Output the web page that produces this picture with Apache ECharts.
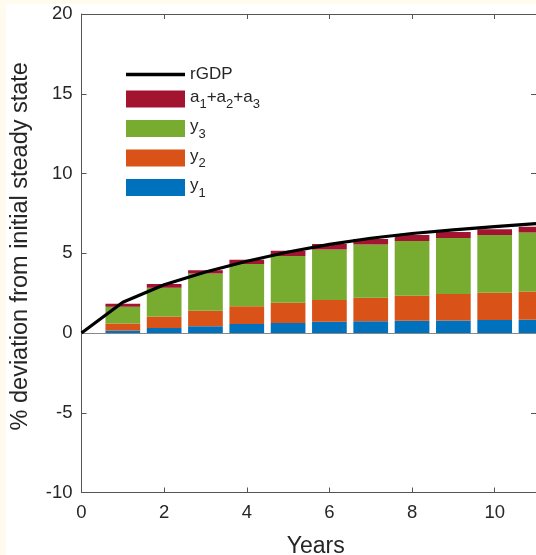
<!DOCTYPE html>
<html>
<head>
<meta charset="utf-8">
<script src="https://cdn.jsdelivr.net/npm/echarts@6/dist/echarts.min.js"></script>
<style>
  html, body { margin: 0; padding: 0; background: #FFFCEF; width: 536px; height: 555px; overflow: hidden; }
  #chart { position: absolute; left: 6px; top: 4px; width: 530px; height: 551px; background: #ffffff; }
</style>
</head>
<body>
<div id="chart"></div>
<script>
// ---- data ----
const years = [1, 2, 3, 4, 5, 6, 7, 8, 9, 10, 11];
const y1 = [0.16, 0.31, 0.43, 0.56, 0.62, 0.70, 0.74, 0.77, 0.79, 0.82, 0.83];
const y2 = [0.44, 0.73, 0.97, 1.11, 1.28, 1.37, 1.47, 1.56, 1.65, 1.71, 1.77];
const y3 = [1.04, 1.80, 2.33, 2.66, 2.92, 3.17, 3.34, 3.44, 3.52, 3.61, 3.70];
const aSum = [0.20, 0.23, 0.20, 0.27, 0.33, 0.34, 0.34, 0.38, 0.37, 0.37, 0.36];
const gdpYears = [0, 1, 2, 3, 4, 5, 6, 7, 8, 9, 10, 11];
const rGDP = [0, 1.93, 3.02, 3.82, 4.50, 5.08, 5.56, 5.94, 6.24, 6.47, 6.67, 6.86];
const xTicks = [0, 2, 4, 6, 8, 10];
const yTicks = [-10, -5, 0, 5, 10, 15, 20];

const names = { rgdp: 'rGDP', a: 'a1+a2+a3', y3: 'y3', y2: 'y2', y1: 'y1' };
const colors = { y1: '#0072BD', y2: '#D95319', y3: '#77AC30', a: '#A2142F' };

const cats = gdpYears.map(String);
const pairs = (xs, vs) => xs.map((x, i) => [String(x), vs[i]]);
const FONT = 'Liberation Sans, Arial, Helvetica, sans-serif';
const TXT = '#262626';
const AX = '#555555';

const chart = echarts.init(document.getElementById('chart'), null, { renderer: 'canvas' });

function barSeries(key, vals) {
  return {
    name: names[key], type: 'bar', stack: 'total', barWidth: '84%',
    itemStyle: { color: colors[key] },
    data: pairs(years, vals), z: 2
  };
}

const legendRich = {
  n: { fontSize: 17, lineHeight: 17, verticalAlign: 'top', color: TXT, fontFamily: FONT },
  s: { fontSize: 13, lineHeight: 21, verticalAlign: 'top', padding: [9.5, 0, 0, 0], color: TXT, fontFamily: FONT }
};
function legendFmt(name) {
  if (name === 'a1+a2+a3') return '{n|a}{s|1}{n|+a}{s|2}{n|+a}{s|3}';
  if (name[0] === 'y') return '{n|y}{s|' + name.slice(1) + '}';
  return name;
}

const tickShown = (i) => xTicks.includes(gdpYears[i]);

const option = {
  animation: false,
  grid: { left: 75.5, top: 10, right: 0, bottom: 62.5, containLabel: false, outerBoundsMode: 'none' },
  legend: [
    {
      data: [{ name: names.rgdp, icon: 'rect', itemStyle: { color: '#000000' } }],
      left: 120, top: 62, orient: 'vertical', padding: 0,
      itemWidth: 59, itemHeight: 3.5, textStyle: { fontSize: 17, color: TXT, fontFamily: FONT }
    },
    {
      data: [names.a, names.y3, names.y2, names.y1].map(n => ({ name: n, icon: 'rect' })),
      left: 120, top: 84.5, orient: 'vertical', itemGap: 7, padding: 0,
      itemWidth: 59, itemHeight: 17, formatter: legendFmt,
      textStyle: { rich: legendRich, fontSize: 17, color: TXT, fontFamily: FONT }
    }
  ],
  xAxis: [
    {
      type: 'category', data: cats, boundaryGap: false, position: 'bottom',
      name: 'Years', nameLocation: 'middle', nameGap: 42.5,
      nameTextStyle: { fontSize: 23, color: TXT, fontFamily: FONT, padding: [0, 0, 0, 14] },
      axisLine: { show: true, onZero: false, lineStyle: { color: AX, width: 1 } },
      axisTick: { show: true, inside: true, length: 5, interval: (i) => tickShown(i), lineStyle: { color: AX } },
      axisLabel: { interval: (i) => tickShown(i), fontSize: 18.5, color: TXT, fontFamily: FONT, margin: 11 },
      splitLine: { show: false }
    },
    {
      type: 'category', data: cats, boundaryGap: false, position: 'top',
      axisLine: { show: true, onZero: false, lineStyle: { color: AX, width: 1 } },
      axisTick: { show: true, inside: true, length: 5, interval: (i) => tickShown(i), lineStyle: { color: AX } },
      axisLabel: { show: false }, splitLine: { show: false }
    }
  ],
  yAxis: [
    {
      type: 'value', min: -10, max: 20, interval: 5, position: 'left',
      name: '% deviation from initial steady state', nameLocation: 'middle', nameGap: 49, nameRotate: 90,
      nameTextStyle: { fontSize: 23.5, color: TXT, fontFamily: FONT, padding: [0, 0, 0, 14] },
      axisLine: { show: true, onZero: false, lineStyle: { color: AX, width: 1 } },
      axisTick: { show: true, inside: true, length: 5, lineStyle: { color: AX } },
      axisLabel: { fontSize: 18.5, color: TXT, fontFamily: FONT, margin: 9,
        formatter: v => yTicks.includes(v) ? String(v) : '' },
      splitLine: { show: false }
    },
    {
      type: 'value', min: -10, max: 20, interval: 5, position: 'right',
      axisLine: { show: true, onZero: false, lineStyle: { color: '#bbbbbb', width: 1 } },
      axisTick: { show: true, inside: true, length: 5, lineStyle: { color: AX } },
      axisLabel: { show: false }, splitLine: { show: false }
    }
  ],
  series: [
    Object.assign(barSeries('y1', y1), {
      markLine: {
        silent: true, symbol: 'none', label: { show: false },
        lineStyle: { color: '#888888', width: 1, type: 'solid' },
        data: [{ yAxis: 0 }]
      }
    }),
    barSeries('y2', y2),
    barSeries('y3', y3),
    barSeries('a', aSum),
    {
      name: names.rgdp, type: 'line', data: pairs(gdpYears, rGDP),
      symbol: 'none', lineStyle: { color: '#000000', width: 3.2 }, itemStyle: { color: '#000000' },
      z: 5
    }
  ]
};
chart.setOption(option);
</script>
</body>
</html>
